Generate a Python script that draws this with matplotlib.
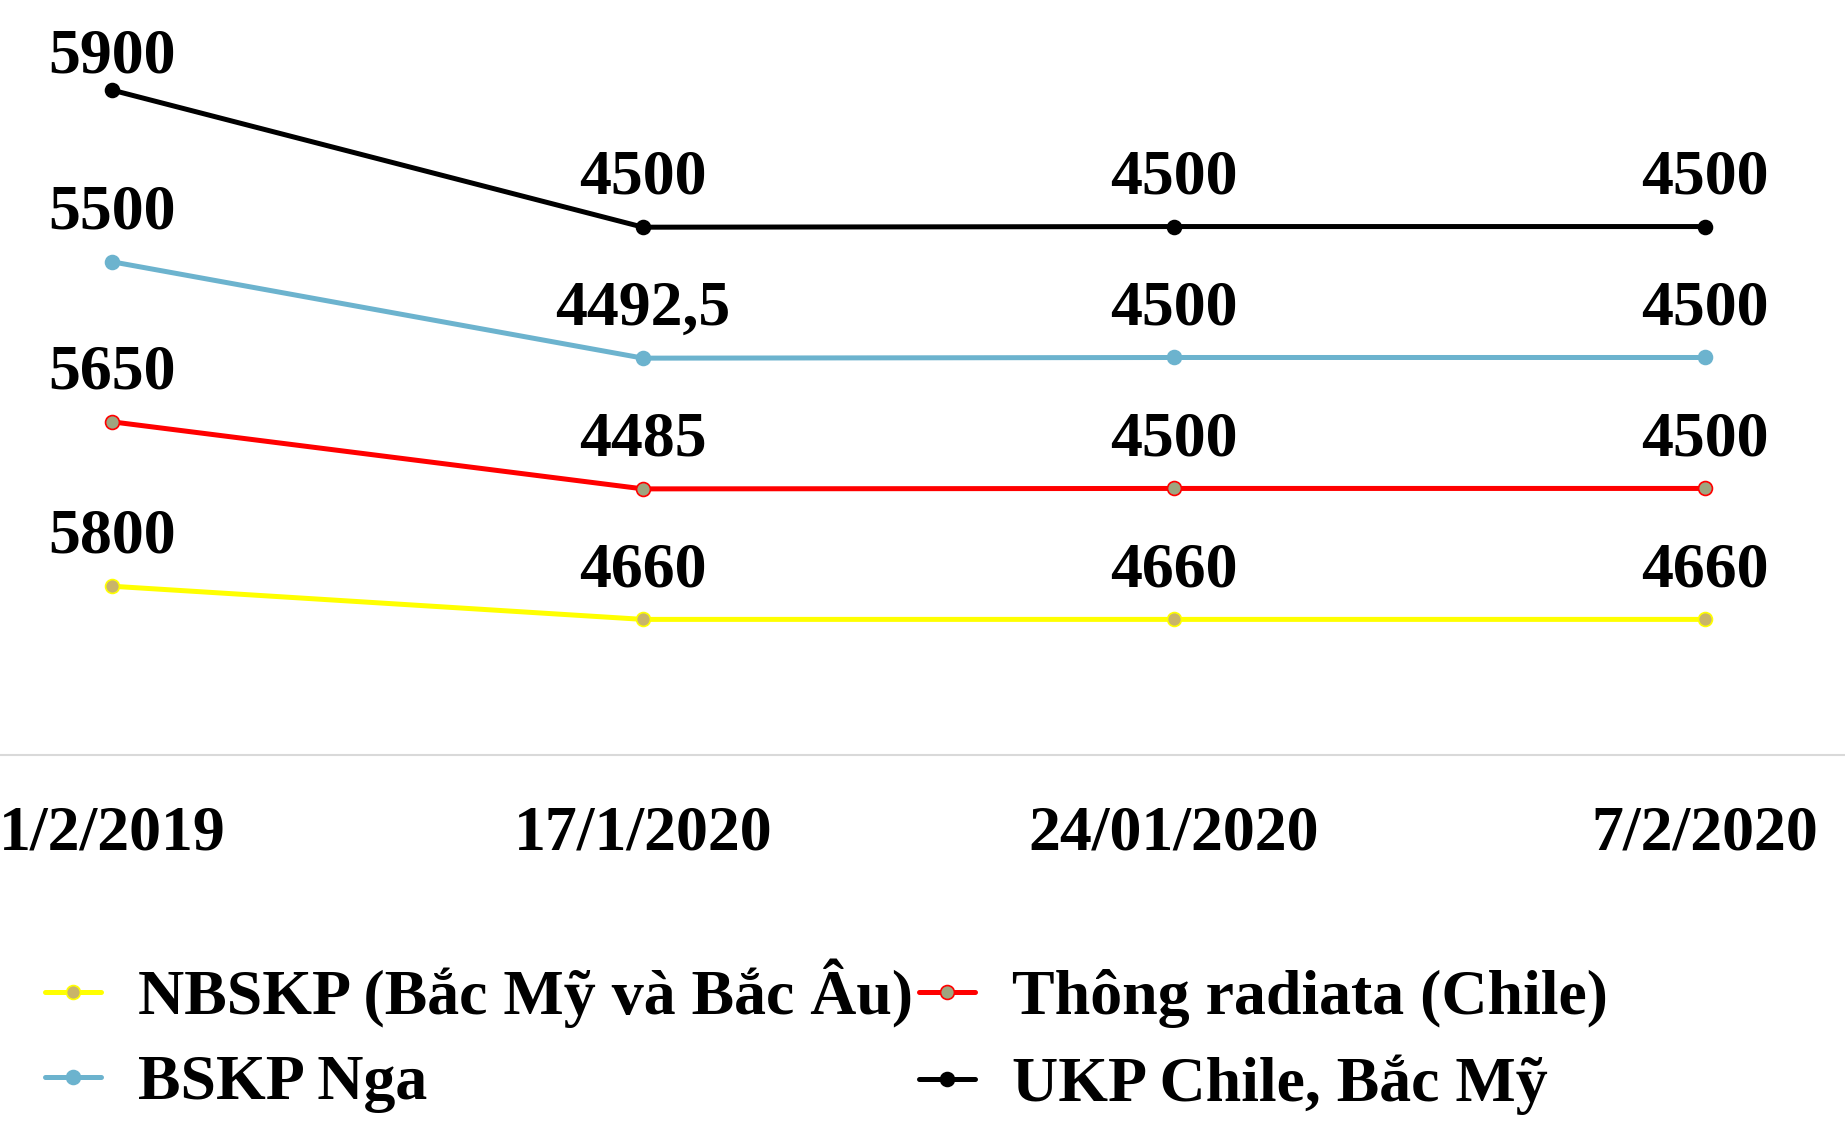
import numpy as np
import matplotlib.pyplot as plt

plt.rcParams['font.family'] = ['Liberation Serif', 'DejaVu Serif']
plt.rcParams['font.weight'] = 'bold'

# Data (Excel stacked line chart: each line sits on top of the previous ones)
dates = ['1/2/2019', '17/1/2020', '24/01/2020', '7/2/2020']
nbskp = [5800, 4660, 4660, 4660]
radiata = [5650, 4485, 4500, 4500]
bskp_nga = [5500, 4492.5, 4500, 4500]
ukp = [5900, 4500, 4500, 4500]

series = [
    ('NBSKP (Bắc Mỹ và Bắc Âu)', nbskp, '#FFFF00', '#C9B46A', '#FFFF00'),
    ('Thông radiata (Chile)', radiata, '#FF0000', '#9EA57F', '#FF0000'),
    ('BSKP Nga', bskp_nga, '#6CB3CE', '#6CB3CE', '#6CB3CE'),
    ('UKP Chile, Bắc Mỹ', ukp, '#000000', '#000000', '#000000'),
]

fig = plt.figure(figsize=(18.45, 11.25), dpi=100)
ax = fig.add_axes([0, 370 / 1125, 1, 727.5 / 1125])

x = np.arange(len(dates))
base = np.zeros(len(dates))
handles = {}
for name, vals, col, mfc, mec in series:
    top = base + np.array(vals)
    h, = ax.plot(x, top, color=col, lw=3.6, marker='o', markersize=10,
                 markerfacecolor=mfc, markeredgecolor=mec, markeredgewidth=1.2,
                 solid_capstyle='round')
    handles[name] = h
    for i, v in enumerate(vals):
        txt = f'{v:g}'.replace('.', ',')
        # label above the point; the topmost one is pushed down to stay in the chart
        off = 13 if top[i] > 22000 else 24
        ax.annotate(txt, (x[i], top[i]), xytext=(0, off), textcoords='offset points',
                    ha='center', va='baseline', fontsize=46, fontweight='bold')
    base = top

ax.set_xlim(-112 / 531, (1845 - 112) / 531)
ax.set_ylim(0, 25000)
ax.set_yticks([])
ax.set_xticks(x)
ax.set_xticklabels(dates, fontsize=46, fontweight='bold')
ax.tick_params(axis='x', length=0, pad=36)
for s in ['top', 'right', 'left']:
    ax.spines[s].set_visible(False)
ax.spines['bottom'].set_color('#D9D9D9')
ax.spines['bottom'].set_linewidth(1.5)

order = ['NBSKP (Bắc Mỹ và Bắc Âu)', 'BSKP Nga', 'Thông radiata (Chile)', 'UKP Chile, Bắc Mỹ']
fig.legend([handles[n] for n in order], order, ncol=2, loc='lower left',
           bbox_to_anchor=(45 / 1845, 10 / 1125), frameon=False,
           prop={'size': 46, 'weight': 'bold'}, handlelength=0.87,
           handletextpad=0.58, columnspacing=0.1, labelspacing=0.41,
           borderpad=0, borderaxespad=0)

fig.savefig('out.png', dpi=100)
